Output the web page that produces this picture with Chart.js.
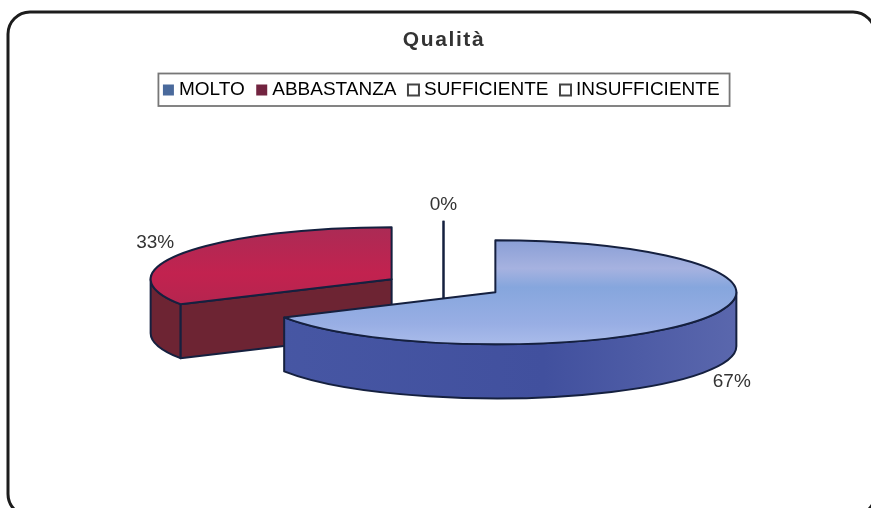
<!DOCTYPE html>
<html>
<head>
<meta charset="utf-8">
<style>
  html, body { margin: 0; padding: 0; background: #fff; }
  #wrap { width: 871px; height: 508px; overflow: hidden; }
  canvas { filter: blur(0.4px); }
</style>
<script src="https://cdn.jsdelivr.net/npm/chart.js@4"></script>
</head>
<body>
<div id="wrap"><canvas id="chart" width="871" height="508"></canvas></div>
<script>
const TITLE = 'Qualità';
const categories = ['MOLTO', 'ABBASTANZA', 'SUFFICIENTE', 'INSUFFICIENTE'];
const values = [67, 33, 0, 0];
const swatchColors = ['#4a6a9c', '#722440', '#ffffff', '#ffffff'];

// look of the fake 3D pie
const RX = 241, RY = 52, DEPTH = 54;
const EXPLODE = 0.25; // share of the radius
const OUTLINE = '#15203f';
const TEXT = '#333333';
const FONT = '"Liberation Sans", Arial, sans-serif';
// label nudges from the outer edge of each slice
const LABEL_NUDGE = [[29, 63], [-29, -10], [0, -15.5], [0, -15.5]];

const sliceGeom = (chart, i) => {
    const el = chart.getDatasetMeta(0).data[i];
    const p = el.getProps(['x', 'y', 'startAngle', 'endAngle', 'outerRadius'], true);
    const mid = (p.startAngle + p.endAngle) / 2;
    return {
        start: p.startAngle,
        end: p.endAngle,
        mid,
        cx: p.x + Math.cos(mid) * RX * EXPLODE,
        cy: p.y + Math.sin(mid) * RY * EXPLODE
    };
};

const at = (g, a, dy = 0) => [g.cx + Math.cos(a) * RX, g.cy + Math.sin(a) * RY + dy];

// outer wall between two angles (only the front half can be seen)
const wallPath = (ctx, g, a0, a1) => {
    ctx.beginPath();
    ctx.ellipse(g.cx, g.cy, RX, RY, 0, a0, a1);
    ctx.ellipse(g.cx, g.cy + DEPTH, RX, RY, 0, a1, a0, true);
    ctx.closePath();
};

const topPath = (ctx, g) => {
    ctx.beginPath();
    ctx.moveTo(g.cx, g.cy);
    ctx.ellipse(g.cx, g.cy, RX, RY, 0, g.start, g.end);
    ctx.closePath();
};

const vGrad = (ctx, y0, y1, stops) => {
    const gr = ctx.createLinearGradient(0, y0, 0, y1);
    stops.forEach(([o, c]) => gr.addColorStop(o, c));
    return gr;
};

const hGrad = (ctx, x0, x1, stops) => {
    const gr = ctx.createLinearGradient(x0, 0, x1, 0);
    stops.forEach(([o, c]) => gr.addColorStop(o, c));
    return gr;
};

const drawBlue = (ctx, g) => {
    ctx.fillStyle = hGrad(ctx, g.cx - RX, g.cx + RX, [[0, '#4757a4'], [0.6, '#41509e'], [1, '#5a67ad']]);
    wallPath(ctx, g, 0, g.end);
    ctx.fill();
    ctx.stroke();
    ctx.fillStyle = vGrad(ctx, g.cy - RY, g.cy + RY, [[0, '#8a9fd6'], [0.27, '#a6b2e0'], [0.45, '#86a6dd'], [0.8, '#98aee4'], [1, '#a9bbea']]);
    topPath(ctx, g);
    ctx.fill();
    ctx.stroke();
};

const drawRed = (ctx, g) => {
    const side = '#6d2433';
    // cut face towards the viewer
    const [ex, ey] = at(g, g.start);
    ctx.fillStyle = side;
    ctx.beginPath();
    ctx.moveTo(g.cx, g.cy);
    ctx.lineTo(ex, ey);
    ctx.lineTo(ex, ey + DEPTH);
    ctx.lineTo(g.cx, g.cy + DEPTH);
    ctx.closePath();
    ctx.fill();
    ctx.stroke();
    wallPath(ctx, g, g.start, Math.PI);
    ctx.fill();
    ctx.stroke();
    ctx.fillStyle = vGrad(ctx, g.cy - RY, g.cy + RY * 0.5, [[0, '#ab2b55'], [0.6, '#c2224f'], [1, '#b5254f']]);
    topPath(ctx, g);
    ctx.fill();
    ctx.stroke();
};

// a 0% slice is only its cut plane seen edge on
const drawZero = (ctx, g) => {
    const [x, y] = at(g, g.mid);
    ctx.beginPath();
    ctx.moveTo(x, y);
    ctx.lineTo(x, g.cy + DEPTH);
    ctx.stroke();
};

const pie3d = {
    id: 'pie3d',
    beforeDatasetsDraw(chart) {
        const ctx = chart.ctx;
        const geom = values.map((v, i) => sliceGeom(chart, i));
        ctx.save();
        ctx.strokeStyle = OUTLINE;
        ctx.lineWidth = 2;
        ctx.lineJoin = 'round';
        drawRed(ctx, geom[1]);
        drawZero(ctx, geom[2]);
        drawZero(ctx, geom[3]);
        drawBlue(ctx, geom[0]);
        ctx.restore();

        ctx.save();
        ctx.fillStyle = TEXT;
        ctx.font = '19px ' + FONT;
        ctx.textAlign = 'center';
        ctx.textBaseline = 'middle';
        values.forEach((v, i) => {
            if (i === 3) return; // same spot as the other 0%
            const [x, y] = at(geom[i], geom[i].mid);
            ctx.fillText(v + '%', x + LABEL_NUDGE[i][0], y + LABEL_NUDGE[i][1]);
        });
        ctx.restore();
        return false; // the stock flat arcs are not wanted
    }
};

const frame = {
    id: 'frame',
    beforeDraw(chart) {
        const ctx = chart.ctx;
        ctx.save();
        ctx.fillStyle = '#ffffff';
        ctx.fillRect(0, 0, chart.width, chart.height);
        ctx.strokeStyle = '#1c1c1c';
        ctx.lineWidth = 3;
        ctx.beginPath();
        ctx.roundRect(8, 12, 867, 504, 22);
        ctx.stroke();
        ctx.restore();
    },
    afterDraw(chart) {
        const ctx = chart.ctx;
        // title: letter spaced like the original
        ctx.save();
        ctx.fillStyle = TEXT;
        ctx.font = 'bold 21px ' + FONT;
        ctx.letterSpacing = '1.6px';
        ctx.textAlign = 'center';
        ctx.textBaseline = 'middle';
        ctx.fillText(TITLE, 444, 40);
        ctx.restore();
        // box around the legend
        const boxes = chart.legend.legendHitBoxes;
        const last = boxes[boxes.length - 1];
        const x0 = boxes[0].left - 9;
        const x1 = last.left + last.width + 10;
        ctx.save();
        ctx.strokeStyle = '#777777';
        ctx.lineWidth = 1.8;
        ctx.strokeRect(x0, 73.5, x1 - x0, 32.5);
        ctx.restore();
    }
};

new Chart(document.getElementById('chart'), {
    type: 'pie',
    data: {
        labels: categories,
        datasets: [{ data: values, backgroundColor: swatchColors, borderWidth: 0 }]
    },
    plugins: [frame, pie3d],
    options: {
        responsive: false,
        animation: false,
        layout: { padding: { top: 64.5, bottom: 46, left: 36, right: 20 } },
        plugins: {
            title: { display: false },
            tooltip: { enabled: false },
            legend: {
                display: true,
                position: 'top',
                labels: {
                    color: TEXT,
                    font: { family: FONT, size: 19 },
                    usePointStyle: true,
                    boxWidth: 2,
                    boxHeight: 11,
                    padding: 16,
                    generateLabels: () => categories.map((c, i) => ({
                        text: c,
                        fillStyle: swatchColors[i],
                        strokeStyle: i < 2 ? swatchColors[i] : '#444444',
                        lineWidth: i < 2 ? 0 : 2,
                        pointStyle: 'rect',
                        hidden: false,
                        index: i
                    }))
                }
            }
        }
    }
});
</script>
</body>
</html>
